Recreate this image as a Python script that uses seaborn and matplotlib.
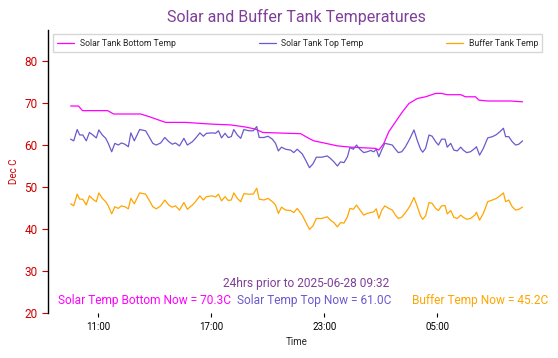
# Solar and buffer tank temperatures over the last 24 hours
import pandas as pd
import matplotlib
matplotlib.use("Agg")
import matplotlib.pyplot as plt
import matplotlib.dates as mdates
import seaborn as sns

end_time = pd.Timestamp("2025-06-28 09:32")
start_time = end_time - pd.Timedelta(hours=24)

# minutes after start for the top / buffer readings
top_minutes = [
    0, 10, 21, 29, 39, 50, 60, 71, 82, 90, 101, 112, 120, 131, 141, 152,
    162, 173, 184, 192, 203, 220, 239, 250, 262, 273, 287, 300, 313, 324, 334, 347,
    361, 372, 388, 398, 412, 423, 433, 451, 462, 471, 481, 492, 502, 512, 520, 531,
    542, 552, 568, 582, 593, 601, 616, 629, 643, 653, 662, 672, 685, 701, 711, 722,
    738, 749, 761, 772, 783, 800, 818, 828, 839, 850, 860, 871, 882, 890, 901, 911,
    922, 934, 945, 956, 966, 974, 982, 991, 1001, 1014, 1025, 1035, 1044, 1055, 1067, 1080,
    1094, 1105, 1115, 1122, 1131, 1142, 1152, 1163, 1172, 1182, 1193, 1200, 1211, 1221, 1232, 1243,
    1251, 1262, 1274, 1288, 1293, 1303, 1315, 1329, 1344, 1357, 1368, 1379, 1386, 1396, 1407, 1418,
    1428, 1440,
]
top_temp = [
    61.4, 61.0, 63.7, 62.4, 62.4, 61.0, 63.0, 62.4, 61.7, 63.6, 62.4, 61.6, 60.4, 58.4, 60.4, 60.0,
    60.5, 60.2, 59.6, 62.9, 61.0, 63.7, 63.4, 62.0, 60.4, 60.0, 60.5, 61.8, 60.8, 60.2, 60.5, 59.8,
    61.6, 60.0, 60.8, 61.6, 62.9, 62.1, 62.8, 62.9, 62.8, 63.4, 61.7, 62.8, 61.8, 62.0, 63.7, 62.4,
    61.6, 63.7, 63.4, 63.4, 64.4, 61.8, 61.8, 62.1, 61.4, 60.4, 58.6, 59.5, 59.0, 58.8, 58.2, 59.0,
    57.9, 56.4, 54.6, 55.5, 57.1, 57.1, 57.4, 56.8, 56.0, 55.0, 56.0, 55.8, 57.2, 59.4, 59.0, 60.0,
    59.0, 58.2, 58.4, 58.7, 58.4, 59.0, 57.2, 58.8, 60.4, 60.2, 60.0, 59.0, 58.2, 58.4, 59.6, 61.4,
    63.6, 61.0, 59.0, 58.3, 59.2, 62.4, 62.1, 60.8, 60.0, 61.4, 61.4, 59.5, 60.4, 58.8, 58.6, 59.5,
    58.8, 58.2, 58.4, 59.2, 59.6, 57.6, 59.2, 61.7, 62.0, 62.5, 63.2, 64.0, 62.0, 62.0, 60.8, 60.0,
    60.2, 61.0,
]
buffer_temp = [
    46.0, 45.5, 48.3, 47.1, 47.1, 45.7, 47.9, 47.1, 46.5, 48.6, 47.3, 46.5, 45.5, 43.6, 45.3, 44.9,
    45.5, 45.3, 44.8, 47.3, 46.0, 48.6, 48.3, 46.9, 45.3, 44.8, 45.5, 46.9, 45.7, 45.2, 45.5, 44.5,
    46.3, 44.7, 45.7, 46.5, 47.9, 46.9, 47.7, 47.9, 47.6, 48.3, 46.7, 47.7, 46.8, 46.9, 48.6, 47.3,
    46.5, 48.4, 48.3, 48.3, 49.7, 47.1, 46.9, 47.3, 46.5, 45.7, 43.7, 45.2, 44.5, 44.4, 43.9, 44.9,
    43.3, 41.7, 39.9, 40.7, 42.5, 42.5, 42.9, 42.1, 41.5, 40.5, 41.5, 41.4, 42.9, 44.9, 44.7, 45.7,
    44.5, 43.3, 43.7, 43.9, 44.1, 44.8, 42.5, 44.4, 45.5, 44.9, 44.5, 43.3, 42.5, 42.8, 43.9, 45.3,
    47.5, 45.3, 43.1, 42.3, 43.1, 46.3, 46.1, 44.9, 44.4, 45.5, 45.6, 43.6, 44.4, 42.8, 42.5, 43.3,
    42.8, 42.3, 42.5, 43.3, 44.0, 42.1, 43.7, 46.5, 46.9, 47.3, 47.9, 48.6, 46.5, 46.9, 45.3, 44.5,
    44.7, 45.2,
]

# bottom sensor is smooth, fewer readings needed
bottom_minutes = [
    0, 25, 38, 118, 137, 223, 249, 287, 303, 366, 446, 510, 557, 589, 612, 733,
    759, 775, 807, 850, 892, 972, 982, 998, 1014, 1035, 1057, 1078, 1105, 1131, 1163, 1182,
    1200, 1243, 1258, 1290, 1301, 1328, 1402, 1440,
]
bottom_temp = [
    69.3, 69.3, 68.2, 68.2, 67.4, 67.4, 66.8, 65.8, 65.4, 65.4, 65.0, 64.8, 64.3, 63.8, 63.0, 62.7,
    61.6, 61.0, 60.5, 59.8, 59.5, 59.2, 58.8, 60.4, 63.2, 65.5, 67.9, 69.9, 71.1, 71.5, 72.3, 72.3,
    72.0, 72.0, 71.5, 71.5, 70.7, 70.5, 70.5, 70.3,
]

series_names = ["Solar Tank Bottom Temp", "Solar Tank Top Temp", "Buffer Tank Temp"]
series_colors = ["magenta", "slateblue", "orange"]

bottom_df = pd.DataFrame({
    "Time": start_time + pd.to_timedelta(bottom_minutes, unit="min"),
    "Temp": bottom_temp,
    "Sensor": series_names[0],
})
top_df = pd.DataFrame({
    "Time": start_time + pd.to_timedelta(top_minutes, unit="min"),
    "Temp": top_temp,
    "Sensor": series_names[1],
})
buffer_df = pd.DataFrame({
    "Time": start_time + pd.to_timedelta(top_minutes, unit="min"),
    "Temp": buffer_temp,
    "Sensor": series_names[2],
})
df = pd.concat([bottom_df, top_df, buffer_df], ignore_index=True)

sns.set_style("white")
plt.rcParams["font.family"] = ["Roboto", "DejaVu Sans"]

fig = plt.figure(figsize=(5.58, 3.58), dpi=100)
ax = fig.add_axes([0.086, 0.126, 0.891, 0.79])

sns.lineplot(data=df, x="Time", y="Temp", hue="Sensor", hue_order=series_names,
             palette=series_colors, linewidth=0.9, ax=ax)

ax.set_ylim(20, 87.4)
ax.set_yticks([20, 30, 40, 50, 60, 70, 80])
ax.xaxis.set_major_locator(mdates.HourLocator(byhour=[5, 11, 17, 23]))
ax.xaxis.set_major_formatter(mdates.DateFormatter("%H:%M"))

ax.set_title("Solar and Buffer Tank Temperatures", color="#7e3f98", fontsize=11.5, pad=6)
ax.set_xlabel("Time", fontsize=7, labelpad=4)
ax.set_ylabel("Dec C", fontsize=7, color="#cc0000", labelpad=4)

ax.tick_params(axis="y", colors="#cc0000", labelsize=8.5, length=4, width=0.8, left=True)
ax.tick_params(axis="x", colors="black", labelsize=7, length=3, width=0.8, bottom=True)

for side in ["top", "right", "bottom"]:
    ax.spines[side].set_visible(False)
ax.spines["left"].set_color("black")
ax.spines["left"].set_linewidth(1.0)

ax.legend(loc="upper left", bbox_to_anchor=(0.01, 0.985, 0.984, 0), mode="expand",
          ncol=3, fontsize=6.2, frameon=True, borderaxespad=0, handlelength=2.0,
          handletextpad=0.6, borderpad=0.5, fancybox=False, edgecolor="#cccccc")

ax.text(0.52, 0.105, "24hrs prior to 2025-06-28 09:32", transform=ax.transAxes,
        ha="center", va="center", fontsize=8.6, color="#7e3f98")
ax.text(0.02, 0.045, "Solar Temp Bottom Now = 70.3C", transform=ax.transAxes,
        ha="left", va="center", fontsize=8.6, color="magenta")
ax.text(0.38, 0.045, "Solar Temp Top Now = 61.0C", transform=ax.transAxes,
        ha="left", va="center", fontsize=8.6, color="slateblue")
ax.text(0.732, 0.045, "Buffer Temp Now = 45.2C", transform=ax.transAxes,
        ha="left", va="center", fontsize=8.6, color="orange")

fig.savefig("out.png", dpi=100)
